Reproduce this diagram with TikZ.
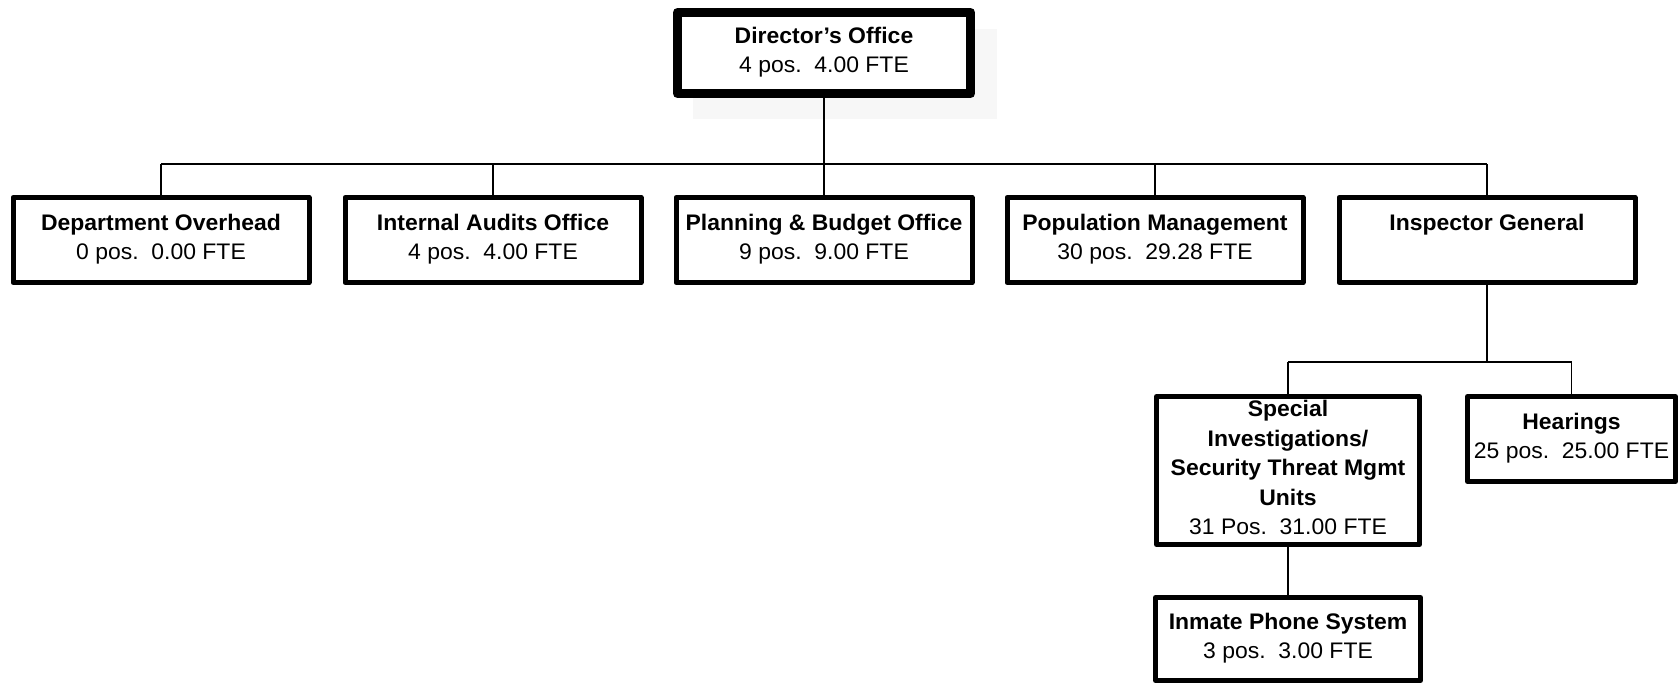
\documentclass[tikz,border=0pt]{standalone}
\usepackage{fontspec}
\setmainfont{Liberation Sans}[FakeStretch=1.02]
\newcommand\mystrut{\rule[-6.5pt]{0pt}{23pt}}
\tikzset{
  unitbox/.style={draw, fill=white, line width=5pt, line join=round, align=center,
    inner sep=0pt, font=\fontsize{22.5}{29.5}\selectfont},
  rowbox/.style={unitbox, minimum width=296pt, minimum height=85pt},
  conn/.style={draw, line width=1.6pt}
}
\begin{document}
\begin{tikzpicture}[x=1pt,y=-1pt]
\useasboundingbox (0,0) rectangle (1680,683);
% light shadow behind the director box
\fill[black!3] (693,29) rectangle (997,119);
% director
\node[unitbox, line width=9pt, minimum width=293pt, minimum height=81pt] (dir) at (824,53)
  {\mystrut\textbf{Director’s Office}\\4 pos.~~4.00 FTE\mystrut};
% first row
\node[rowbox] (dept) at (161,240) {\mystrut\textbf{Department Overhead}\\0 pos.~~0.00 FTE\mystrut};
\node[rowbox] (audit) at (493,240) {\mystrut\textbf{Internal Audits Office}\\4 pos.~~4.00 FTE\mystrut};
\node[rowbox] (plan) at (824,240) {\mystrut\textbf{Planning \& Budget Office}\\9 pos.~~9.00 FTE\mystrut};
\node[rowbox] (pop) at (1155,240) {\mystrut\textbf{Population Management}\\30 pos.~~29.28 FTE\mystrut};
\node[rowbox] (insp) at (1487,240) {\mystrut\textbf{Inspector General}\\\mystrut};
% second level under Inspector General
\node[unitbox, minimum width=263pt, minimum height=148pt] (spec) at (1288,470.5)
  {\mystrut\textbf{Special}\\\textbf{Investigations/}\\\textbf{Security Threat Mgmt}\\\textbf{Units}\\31 Pos.~~31.00 FTE\mystrut};
\node[unitbox, minimum width=208pt, minimum height=85pt] (hear) at (1571.5,439)
  {\mystrut\textbf{Hearings}\\25 pos.~~25.00 FTE\mystrut};
\node[unitbox, minimum width=265pt, minimum height=83pt] (phone) at (1288,639)
  {\mystrut\textbf{Inmate Phone System}\\3 pos.~~3.00 FTE\mystrut};
% connectors
\coordinate (busA) at (0,164);
\coordinate (busB) at (0,362);
\draw[conn] (dir.south) -- (dir.south |- busA);
\draw[conn] (dept.north |- busA) -- (insp.north |- busA);
\foreach \n in {dept,audit,plan,pop,insp}
  \draw[conn] (\n.north) -- (\n.north |- busA);
\draw[conn] (insp.south) -- (insp.south |- busB);
\draw[conn] (spec.north |- busB) -- (hear.north |- busB);
\draw[conn] (spec.north) -- (spec.north |- busB);
\draw[conn] (hear.north) -- (hear.north |- busB);
\draw[conn] (spec.south) -- (phone.north);
\end{tikzpicture}
\end{document}
